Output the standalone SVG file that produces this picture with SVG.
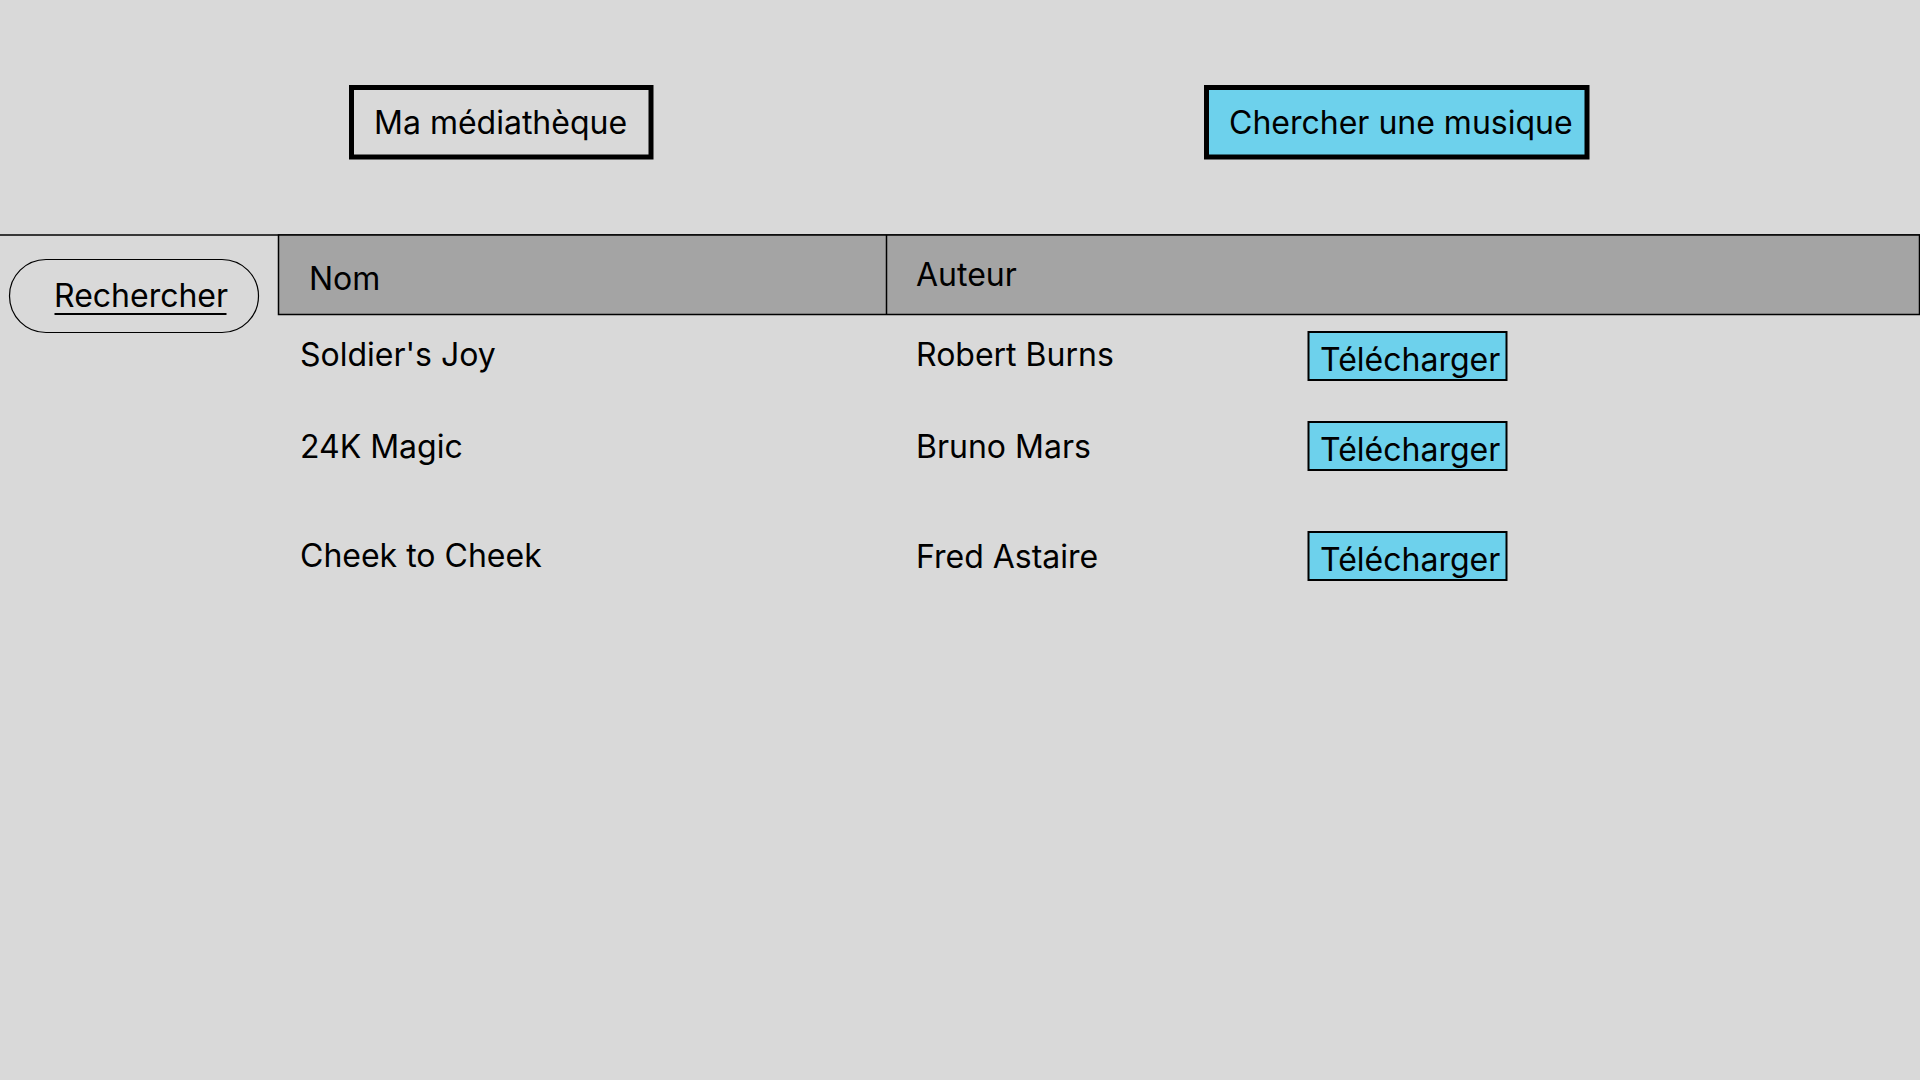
<svg xmlns="http://www.w3.org/2000/svg" width="1920" height="1080" viewBox="0 0 1920 1080">
<style>
text{font-family:Inter,"Noto Sans","Liberation Sans",sans-serif;fill:#000;font-size:32px}
.btn{fill:#6dd1ec;stroke:#000;stroke-width:2}
.tab{stroke:#000;stroke-width:5}
.rule{stroke:#000;stroke-width:1.5}
</style>
<rect x="0" y="0" width="1920" height="1080" fill="#d9d9d9"/>
<g id="tab-mediatheque">
<rect class="tab" x="351.5" y="87.5" width="299.5" height="69.5" fill="#d9d9d9"/>
<text x="374" y="133.5">Ma médiathèque</text>
</g>
<g id="tab-chercher">
<rect class="tab" x="1206.5" y="87.5" width="380.5" height="69.5" fill="#6dd1ec"/>
<text x="1229" y="133.5" font-size="31.7">Chercher une musique</text>
</g>
<g id="table-header">
<line class="rule" x1="0" y1="235" x2="1920" y2="235"/>
<rect class="rule" x="278.5" y="235" width="1641" height="79.5" fill="#a4a4a4"/>
<line class="rule" x1="886.5" y1="235" x2="886.5" y2="314.5"/>
<text x="309" y="290">Nom</text>
<text x="916" y="286">Auteur</text>
</g>
<g id="rechercher">
<rect x="9.5" y="259.5" width="249" height="73" rx="36.5" ry="36.5" fill="#d9d9d9" stroke="#000" stroke-width="1.2"/>
<text x="54" y="307">Rechercher</text>
<line x1="54.5" y1="314" x2="226.5" y2="314" stroke="#000" stroke-width="2"/>
</g>
<g id="row1">
<text x="300" y="365.5">Soldier's Joy</text>
<text x="916" y="366">Robert Burns</text>
<rect class="btn" x="1308.5" y="332" width="198" height="48"/>
<text x="1320" y="371">Télécharger</text>
</g>
<g id="row2">
<text x="300" y="457.5">24K Magic</text>
<text x="916" y="458">Bruno Mars</text>
<rect class="btn" x="1308.5" y="422" width="198" height="48"/>
<text x="1320" y="461">Télécharger</text>
</g>
<g id="row3">
<text x="300" y="566.5">Cheek to Cheek</text>
<text x="916" y="567.5">Fred Astaire</text>
<rect class="btn" x="1308.5" y="532" width="198" height="48"/>
<text x="1320" y="571">Télécharger</text>
</g>
<g id="connectors"></g>
</svg>
